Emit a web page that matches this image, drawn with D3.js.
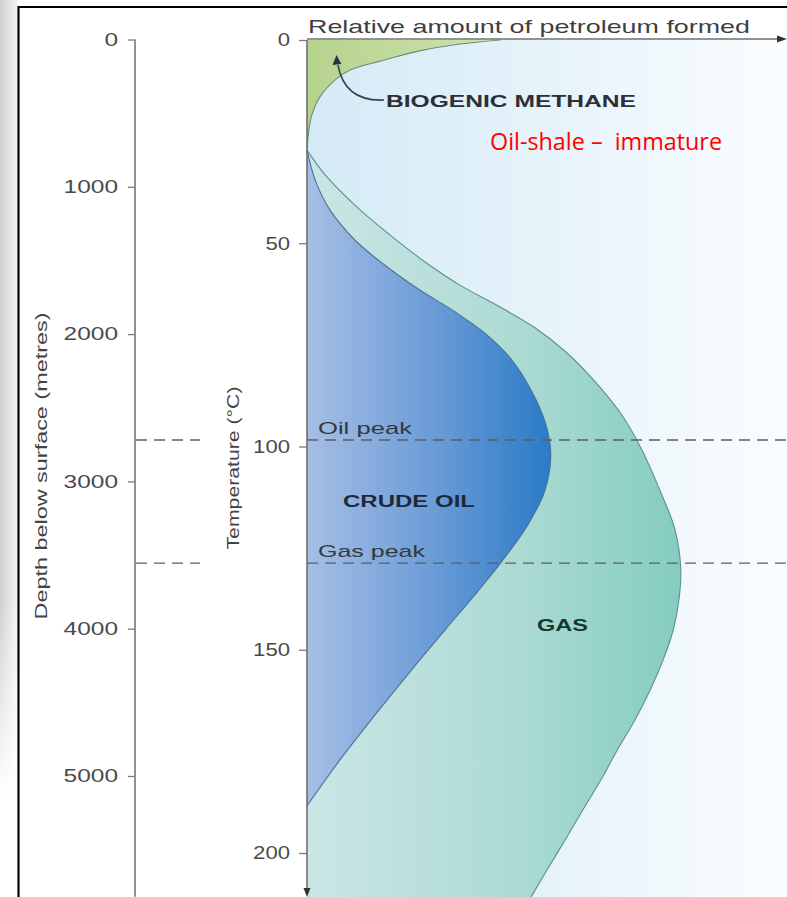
<!DOCTYPE html>
<html><head><meta charset="utf-8">
<script src="https://cdn.jsdelivr.net/npm/d3@7"></script>
<style>html,body{margin:0;padding:0;background:#fff;} svg{display:block;}</style>
</head><body>
<svg id="chart" width="787" height="897"></svg>
<script>
// ---------- data ----------
const depthTicks = [0, 1000, 2000, 3000, 4000, 5000];
const tempTicks = [0, 50, 100, 150, 200];
// biogenic methane boundary (relative amount %, temperature °C)
const methaneAmount = [40.4, 32.0, 24.3, 15.3, 9.0, 5.9, 2.7, 1.0, 0.4, 0];
const methaneTemp   = [0, 1.0, 2.5, 5.2, 7.4, 9.8, 14.0, 18.5, 22.1, 27.1];
// crude oil curve
const oilAmount = [0, 1.7, 4.8, 10.0, 16.3, 23.6, 31.0, 37.2, 42.5, 47.1, 50.0, 51.0, 49.8, 46.2, 41.0, 35.6, 28.9, 21.5, 14.2, 6.9, 0];
const oilTemp   = [27.1, 34.4, 41.8, 49.2, 55.4, 61.5, 66.9, 72.1, 78.2, 86.6, 94.7, 102.1, 110.7, 119.3, 127.9, 135.8, 145.1, 155.5, 166.1, 177.1, 188.4];
// gas curve
const gasAmount = [0, 3.8, 10.0, 17.4, 24.7, 32.0, 40.4, 47.7, 54.4, 60.9, 65.9, 70.1, 73.8, 77.0, 78.2, 77.8, 76.6, 74.5, 71.8, 68.6, 64.9, 61.5, 57.7, 54.0, 50.2, 46.9];
const gasTemp   = [27.1, 33.2, 40.6, 48.0, 54.6, 60.3, 65.7, 70.8, 77.0, 84.9, 92.3, 100.9, 110.7, 120.5, 130.4, 137.8, 145.2, 152.5, 159.9, 167.3, 174.7, 182.0, 189.4, 196.8, 204.2, 210.8];
const peakLabels = ["Oil peak", "Gas peak"];
const peakTemps = [98.4, 128.7];
const tempMax = 210.8;
const depthMax = 5820;

// ---------- setup ----------
const svg = d3.select("#chart");
const FONT = "'Liberation Sans', Arial, Helvetica, sans-serif";
const x = d3.scaleLinear().domain([0, 100]).range([307, 785]);
const yT = d3.scaleLinear().domain([0, 200]).range([40, 853]);
const yD = d3.scaleLinear().domain([0, 5000]).range([39.5, 776]);

const defs = svg.append("defs");
function lg(id, x1, x2, stops, vertical) {
  const g = defs.append("linearGradient").attr("id", id).attr("gradientUnits", "userSpaceOnUse");
  if (vertical) g.attr("x1", 0).attr("x2", 0).attr("y1", x1).attr("y2", x2);
  else g.attr("x1", x1).attr("x2", x2).attr("y1", 0).attr("y2", 0);
  stops.forEach(s => g.append("stop").attr("offset", s[0]).attr("stop-color", s[1]).attr("stop-opacity", s[2] == null ? 1 : s[2]));
}
lg("bgGrad", 307, 787, [[0, "#d4eaf6"], [0.5, "#e6f3fa"], [1, "#fbfdff"]]);
lg("oilGrad", 307, 551, [[0, "#a6bee5"], [0.5, "#6d9dd7"], [1, "#2a7bc6"]]);
lg("gasGrad", 307, 681, [[0, "#cbe6e5"], [0.55, "#addbd4"], [1, "#84ccc1"]]);
lg("methGrad", 307, 500, [[0, "#b6d38d"], [1, "#cfe2b2"]]);
lg("shadowGrad", 0, 18, [[0, "#cfcfcf"], [1, "#f6f6f6"]]);
lg("shadowFade", 600, 800, [[0, "#ffffff", 0], [1, "#ffffff", 1]], true);

// left shadow strip
svg.append("rect").attr("x", 0).attr("y", 0).attr("width", 18).attr("height", 897).attr("fill", "url(#shadowGrad)");
svg.append("rect").attr("x", 0).attr("y", 600).attr("width", 18).attr("height", 297).attr("fill", "url(#shadowFade)");

// plot background
svg.append("rect").attr("x", x(0)).attr("y", yT(0)).attr("width", 787 - x(0)).attr("height", 897 - yT(0)).attr("fill", "url(#bgGrad)");

const line = d3.line().x(d => x(d[0])).y(d => yT(d[1])).curve(d3.curveCatmullRom.alpha(0.5));
const methPts = methaneAmount.map((a, i) => [a, methaneTemp[i]]);
const oilPts = oilAmount.map((a, i) => [a, oilTemp[i]]);
const gasPts = gasAmount.map((a, i) => [a, gasTemp[i]]);

// regions
svg.append("path").attr("d", line(methPts) + `L${x(0)},${yT(0)}Z`).attr("fill", "url(#methGrad)");
svg.append("path").attr("d", line(gasPts) + `L${x(0)},${yT(tempMax)}Z`).attr("fill", "url(#gasGrad)");
svg.append("path").attr("d", line(oilPts) + "Z").attr("fill", "url(#oilGrad)");

// outlines
svg.append("path").attr("d", line(methPts)).attr("fill", "none").attr("stroke", "#6f8c78").attr("stroke-width", 1.1);
svg.append("path").attr("d", line(gasPts)).attr("fill", "none").attr("stroke", "#5f8f8c").attr("stroke-width", 1.1);
svg.append("path").attr("d", line(oilPts)).attr("fill", "none").attr("stroke", "#4d7196").attr("stroke-width", 1.1);

// peak dashed lines
peakTemps.forEach((t, i) => {
  const yy = yT(t);
  svg.append("line").attr("x1", x(0)).attr("x2", 787).attr("y1", yy).attr("y2", yy)
    .attr("stroke", "#5a5f62").attr("stroke-width", 1.3).attr("stroke-dasharray", "11,7");
  svg.append("line").attr("x1", 136).attr("x2", 200).attr("y1", yy).attr("y2", yy)
    .attr("stroke", "#5a5f62").attr("stroke-width", 1.3).attr("stroke-dasharray", "11,7");
  svg.append("text").attr("x", 318).attr("y", yy - 6).text(peakLabels[i])
    .attr("font-family", FONT).attr("font-size", 17).attr("fill", "#33393d")
    .attr("textLength", i === 0 ? 94 : 107).attr("lengthAdjust", "spacingAndGlyphs");
});

// depth axis
const gD = svg.append("g").attr("transform", "translate(135,0)")
  .call(d3.axisLeft(yD).tickValues(depthTicks).tickFormat(d3.format("d")).tickSize(7).tickPadding(10).tickSizeOuter(0));
gD.select(".domain").remove();
gD.selectAll(".tick line").attr("stroke", "#7a7a7a").attr("stroke-width", 1.3);
gD.selectAll(".tick text").attr("font-family", FONT).attr("font-size", 18).attr("fill", "#4a4a4a")
  .attr("textLength", d => String(d).length * 13.6).attr("lengthAdjust", "spacingAndGlyphs");
svg.append("line").attr("x1", 135).attr("x2", 135).attr("y1", yD(0)).attr("y2", yD(depthMax))
  .attr("stroke", "#858585").attr("stroke-width", 1.8);

// temperature axis
const gT = svg.append("g").attr("transform", `translate(${x(0)},0)`)
  .call(d3.axisLeft(yT).tickValues(tempTicks).tickFormat(d3.format("d")).tickSize(8).tickPadding(9).tickSizeOuter(0));
gT.select(".domain").remove();
gT.selectAll(".tick line").attr("stroke", "#7a7a7a").attr("stroke-width", 1.3);
gT.selectAll(".tick text").attr("font-family", FONT).attr("font-size", 18).attr("fill", "#4a4a4a")
  .attr("textLength", d => String(d).length * 12.3).attr("lengthAdjust", "spacingAndGlyphs");
svg.append("line").attr("x1", x(0)).attr("x2", x(0)).attr("y1", yT(0)).attr("y2", 890)
  .attr("stroke", "#6e6e6e").attr("stroke-width", 1.6);
svg.append("path").attr("d", `M${x(0)},897L${x(0) - 3.5},888L${x(0) + 3.5},888Z`).attr("fill", "#333");

// top (relative amount) axis
svg.append("line").attr("x1", x(0)).attr("x2", 779).attr("y1", yT(0) - 1).attr("y2", yT(0) - 1)
  .attr("stroke", "#6e6e6e").attr("stroke-width", 1.3);
svg.append("path").attr("d", `M787,${yT(0) - 1}L777,${yT(0) - 4.5}L777,${yT(0) + 2.5}Z`).attr("fill", "#333");
svg.append("text").attr("x", 308).attr("y", 33).text("Relative amount of petroleum formed")
  .attr("font-family", FONT).attr("font-size", 19).attr("fill", "#3f3f3f")
  .attr("textLength", 442).attr("lengthAdjust", "spacingAndGlyphs");

// axis titles
svg.append("text").attr("transform", "translate(47,466) rotate(-90)").attr("text-anchor", "middle")
  .text("Depth below surface (metres)").attr("font-family", FONT).attr("font-size", 17).attr("fill", "#444")
  .attr("textLength", 307).attr("lengthAdjust", "spacingAndGlyphs");
svg.append("text").attr("transform", "translate(239,468) rotate(-90)").attr("text-anchor", "middle")
  .text("Temperature (\u00B0C)").attr("font-family", FONT).attr("font-size", 17).attr("fill", "#444")
  .attr("textLength", 163).attr("lengthAdjust", "spacingAndGlyphs");

// biogenic methane label and arrow
svg.append("path").attr("d", "M384,100 C362,101 343,93 338,65").attr("fill", "none")
  .attr("stroke", "#3c4450").attr("stroke-width", 1.6);
svg.append("path").attr("d", "M336.5,55 L332.5,65 L341.5,64 Z").attr("fill", "#2c333d");
svg.append("text").attr("x", 386).attr("y", 107).text("BIOGENIC METHANE")
  .attr("font-family", FONT).attr("font-weight", "bold").attr("font-size", 16).attr("fill", "#2b2f38")
  .attr("textLength", 250).attr("lengthAdjust", "spacingAndGlyphs");
svg.append("text").attr("x", 490).attr("y", 150).text("Oil-shale \u2013  immature")
  .style("white-space", "pre")
  .attr("font-family", "'Open Sans', 'Noto Sans', sans-serif").attr("font-size", 24).attr("fill", "#ff0000")
  .attr("textLength", 232).attr("lengthAdjust", "spacingAndGlyphs");
svg.append("text").attr("x", 343).attr("y", 507).text("CRUDE OIL")
  .attr("font-family", FONT).attr("font-weight", "bold").attr("font-size", 16).attr("fill", "#1c2a3e")
  .attr("textLength", 132).attr("lengthAdjust", "spacingAndGlyphs");
svg.append("text").attr("x", 537).attr("y", 631).text("GAS")
  .attr("font-family", FONT).attr("font-weight", "bold").attr("font-size", 17).attr("fill", "#163634")
  .attr("textLength", 51).attr("lengthAdjust", "spacingAndGlyphs");

// frame
svg.append("line").attr("x1", 18).attr("x2", 787).attr("y1", 7).attr("y2", 7).attr("stroke", "#000").attr("stroke-width", 2.2);
svg.append("line").attr("x1", 18.5).attr("x2", 18.5).attr("y1", 6).attr("y2", 897).attr("stroke", "#000").attr("stroke-width", 2.2);
</script>
</body></html>
